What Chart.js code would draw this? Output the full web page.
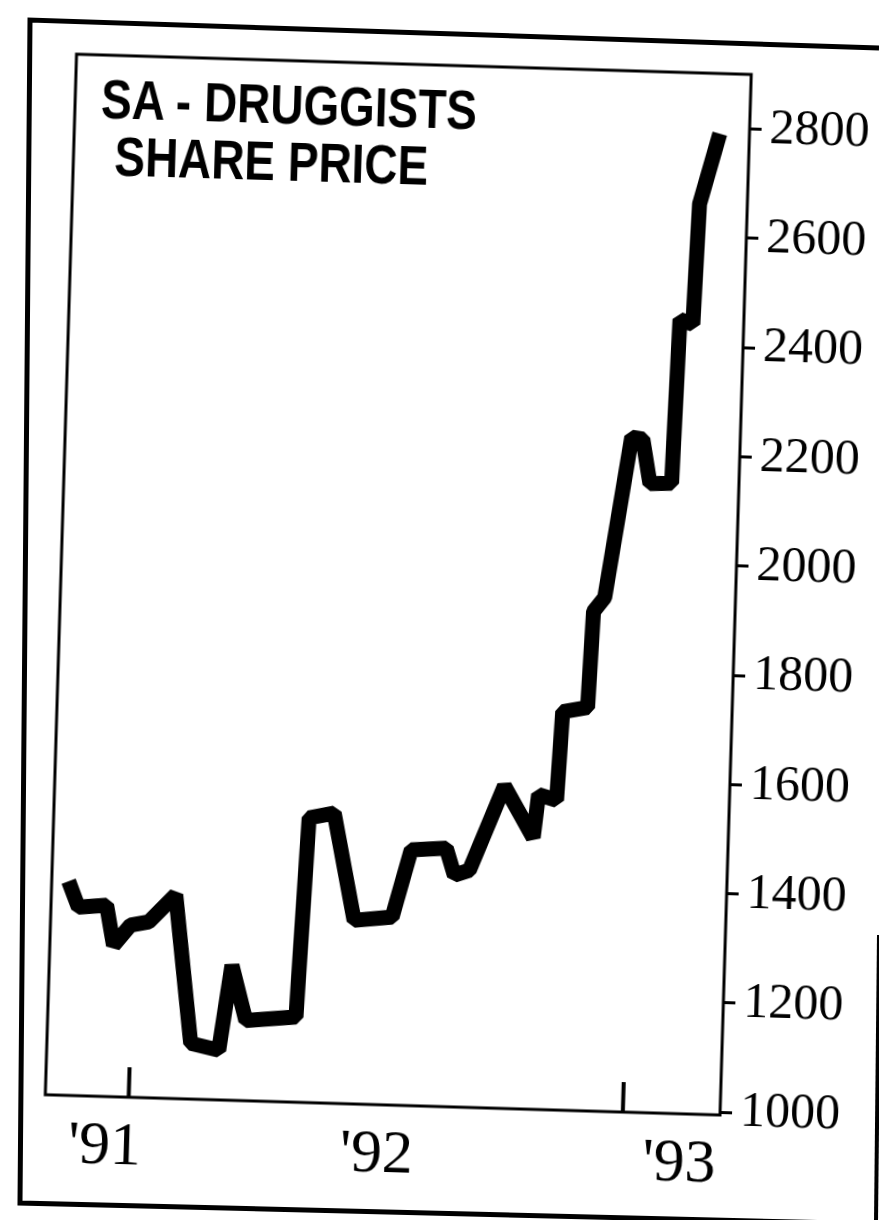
<!DOCTYPE html>
<html>
<head>
<meta charset="utf-8">
<title>SA - Druggists share price</title>
<script src="https://cdn.jsdelivr.net/npm/chart.js@4.4.1/dist/chart.umd.min.js"></script>
<style>
  html, body { margin: 0; padding: 0; background: #fff; width: 879px; height: 1220px; overflow: hidden; }
  #box { position: absolute; left: 0; top: 0; }
  /* the printed chart sits slightly turned on the page */
  #wrap { position: absolute; left: 0; top: 0; width: 1000px; height: 1260px;
          transform-origin: 720px 1115px; transform: rotate(1.72deg); }
  #chart { position: absolute; left: 0; top: 0; }
  .title { position: absolute; color: #000; white-space: nowrap;
           font-family: "Liberation Sans", Arial, sans-serif; font-weight: bold;
           font-size: 56px; line-height: 1; transform: scaleX(0.82); transform-origin: 0 0; }
</style>
</head>
<body>
<svg id="box" width="879" height="1220">
  <polyline points="879,48 30,20 20,1203 879,1224" fill="none" stroke="#000" stroke-width="5"/>
  <line x1="879" y1="935" x2="876" y2="1222" stroke="#000" stroke-width="4"/>
</svg>
<div id="wrap">
  <canvas id="chart" width="1000" height="1260"></canvas>
  <div class="title" style="left:71px; top:90px;">SA - DRUGGISTS</div>
  <div class="title" style="left:86px; top:147px;">SHARE PRICE</div>
</div>
<script>
// months counted from Jan 1991 (0 = '91, 12 = '92, 24 = '93)
var months = [-3.23, -2.72, -1.35, -0.96, -0.16, 0.72, 1.99, 2.93, 4.30, 4.82,
              5.57, 8.00, 8.35, 9.56, 10.68, 12.52, 13.35, 15.05, 15.48, 16.20,
              17.78, 19.25, 19.45, 20.33, 20.50, 21.70, 21.85, 22.37, 23.45, 23.99,
              24.40, 25.45, 25.62, 26.25, 26.40, 27.28];
var prices = [1387, 1340, 1345, 1272, 1310, 1317, 1368, 1097, 1086, 1242,
              1142, 1151, 1516, 1526, 1331, 1339, 1463, 1468, 1419, 1429,
              1585, 1492, 1571, 1562, 1724, 1733, 1909, 1935, 2230, 2227,
              2146, 2148, 2448, 2440, 2660, 2790];

var yTicks = [1000, 1200, 1400, 1600, 1800, 2000, 2200, 2400, 2600, 2800];
var yearLabels = ["'91", "'92", "'93"];
var yearLabelAt = [-1.1, 12.1, 26.8];
var yearMarks = [0, 24];

var points = months.map(function (m, i) {
    return { x: m, y: prices[i] };
});

// plot frame and the inward year marks on the bottom axis
var framePlugin = {
    id: "frame",
    afterDraw: function (chart) {
        var ctx = chart.ctx;
        var a = chart.chartArea;
        var x = chart.scales.x;
        ctx.save();
        ctx.strokeStyle = "#000";
        ctx.lineWidth = 3;
        ctx.strokeRect(a.left, a.top, a.right - a.left, a.bottom - a.top);
        ctx.lineWidth = 4;
        yearMarks.forEach(function (m) {
            var px = x.getPixelForValue(m);
            ctx.beginPath();
            ctx.moveTo(px, a.bottom);
            ctx.lineTo(px, a.bottom - 30);
            ctx.stroke();
        });
        ctx.restore();
    }
};

new Chart(document.getElementById("chart").getContext("2d"), {
    type: "line",
    data: {
        datasets: [
            {
                data: points,
                borderColor: "#000",
                borderWidth: 15,
                borderJoinStyle: "bevel",
                borderCapStyle: "butt",
                pointRadius: 0,
                tension: 0,
                fill: false
            }
        ]
    },
    options: {
        responsive: false,
        animation: false,
        layout: { padding: { left: 45, top: 74, right: 130, bottom: 65 } },
        plugins: {
            legend: { display: false },
            tooltip: { enabled: false }
        },
        scales: {
            x: {
                type: "linear",
                position: "bottom",
                min: -4.05,
                max: 28.72,
                afterFit: function (s) { s.height = 80; },
                afterBuildTicks: function (s) {
                    s.ticks = yearLabelAt.map(function (v) { return { value: v }; });
                },
                ticks: {
                    callback: function (v, i) { return yearLabels[i]; },
                    font: { family: "Liberation Serif", size: 62 },
                    color: "#000",
                    padding: 14,
                    maxRotation: 0,
                    autoSkip: false
                },
                grid: { display: false, drawTicks: false },
                border: { display: false }
            },
            y: {
                type: "linear",
                position: "right",
                min: 995,
                max: 2900,
                afterFit: function (s) { s.width = 150; },
                afterBuildTicks: function (s) {
                    s.ticks = yTicks.map(function (v) { return { value: v }; });
                },
                ticks: {
                    callback: function (v) { return String(v); },
                    font: { family: "Liberation Serif", size: 50 },
                    color: "#000",
                    padding: 8
                },
                grid: { drawOnChartArea: false, drawTicks: true, tickLength: 12, color: "#000", lineWidth: 3 },
                border: { display: false }
            }
        }
    },
    plugins: [framePlugin]
});
</script>
</body>
</html>
